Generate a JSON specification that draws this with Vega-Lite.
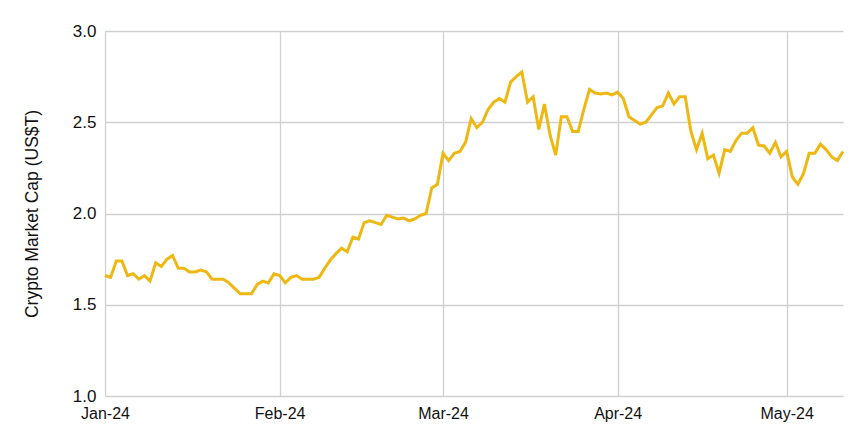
{
  "$schema": "https://vega.github.io/schema/vega-lite/v6.json",
  "width": 738,
  "height": 365,
  "autosize": "none",
  "padding": {"left": 105, "top": 31, "right": 22, "bottom": 48},
  "background": "white",
  "config": {
    "view": {"stroke": null},
    "font": "Liberation Sans",
    "axis": {"grid": true, "gridColor": "#d0d0d0", "gridWidth": 1.3, "domain": false, "ticks": false, "labelFont": "Liberation Sans", "titleFont": "Liberation Sans", "labelColor": "#111111", "titleColor": "#111111"}
  },
  "data": {"values": [
    {"d":"2024-01-01","v":1.66},{"d":"2024-01-02","v":1.65},{"d":"2024-01-03","v":1.74},{"d":"2024-01-04","v":1.74},{"d":"2024-01-05","v":1.66},{"d":"2024-01-06","v":1.67},{"d":"2024-01-07","v":1.64},{"d":"2024-01-08","v":1.66},{"d":"2024-01-09","v":1.63},{"d":"2024-01-10","v":1.73},{"d":"2024-01-11","v":1.71},{"d":"2024-01-12","v":1.75},{"d":"2024-01-13","v":1.77},{"d":"2024-01-14","v":1.70},{"d":"2024-01-15","v":1.70},{"d":"2024-01-16","v":1.68},{"d":"2024-01-17","v":1.68},{"d":"2024-01-18","v":1.69},{"d":"2024-01-19","v":1.68},{"d":"2024-01-20","v":1.64},{"d":"2024-01-21","v":1.64},{"d":"2024-01-22","v":1.64},{"d":"2024-01-23","v":1.62},{"d":"2024-01-24","v":1.59},{"d":"2024-01-25","v":1.56},{"d":"2024-01-26","v":1.56},{"d":"2024-01-27","v":1.56},{"d":"2024-01-28","v":1.61},{"d":"2024-01-29","v":1.63},{"d":"2024-01-30","v":1.62},{"d":"2024-01-31","v":1.67},
    {"d":"2024-02-01","v":1.66},{"d":"2024-02-02","v":1.62},{"d":"2024-02-03","v":1.65},{"d":"2024-02-04","v":1.66},{"d":"2024-02-05","v":1.64},{"d":"2024-02-06","v":1.64},{"d":"2024-02-07","v":1.64},{"d":"2024-02-08","v":1.65},{"d":"2024-02-09","v":1.70},{"d":"2024-02-10","v":1.745},{"d":"2024-02-11","v":1.78},{"d":"2024-02-12","v":1.81},{"d":"2024-02-13","v":1.79},{"d":"2024-02-14","v":1.87},{"d":"2024-02-15","v":1.86},{"d":"2024-02-16","v":1.95},{"d":"2024-02-17","v":1.96},{"d":"2024-02-18","v":1.95},{"d":"2024-02-19","v":1.94},{"d":"2024-02-20","v":1.99},{"d":"2024-02-21","v":1.98},{"d":"2024-02-22","v":1.97},{"d":"2024-02-23","v":1.975},{"d":"2024-02-24","v":1.96},{"d":"2024-02-25","v":1.97},{"d":"2024-02-26","v":1.99},{"d":"2024-02-27","v":2.00},{"d":"2024-02-28","v":2.14},{"d":"2024-02-29","v":2.16},
    {"d":"2024-03-01","v":2.33},{"d":"2024-03-02","v":2.29},{"d":"2024-03-03","v":2.33},{"d":"2024-03-04","v":2.34},{"d":"2024-03-05","v":2.39},{"d":"2024-03-06","v":2.52},{"d":"2024-03-07","v":2.47},{"d":"2024-03-08","v":2.50},{"d":"2024-03-09","v":2.57},{"d":"2024-03-10","v":2.61},{"d":"2024-03-11","v":2.63},{"d":"2024-03-12","v":2.61},{"d":"2024-03-13","v":2.72},{"d":"2024-03-14","v":2.75},{"d":"2024-03-15","v":2.775},{"d":"2024-03-16","v":2.61},{"d":"2024-03-17","v":2.64},{"d":"2024-03-18","v":2.46},{"d":"2024-03-19","v":2.60},{"d":"2024-03-20","v":2.43},{"d":"2024-03-21","v":2.32},{"d":"2024-03-22","v":2.53},{"d":"2024-03-23","v":2.53},{"d":"2024-03-24","v":2.45},{"d":"2024-03-25","v":2.45},{"d":"2024-03-26","v":2.57},{"d":"2024-03-27","v":2.68},{"d":"2024-03-28","v":2.66},{"d":"2024-03-29","v":2.655},{"d":"2024-03-30","v":2.66},{"d":"2024-03-31","v":2.65},
    {"d":"2024-04-01","v":2.665},{"d":"2024-04-02","v":2.63},{"d":"2024-04-03","v":2.53},{"d":"2024-04-04","v":2.51},{"d":"2024-04-05","v":2.49},{"d":"2024-04-06","v":2.50},{"d":"2024-04-07","v":2.54},{"d":"2024-04-08","v":2.58},{"d":"2024-04-09","v":2.59},{"d":"2024-04-10","v":2.66},{"d":"2024-04-11","v":2.60},{"d":"2024-04-12","v":2.64},{"d":"2024-04-13","v":2.64},{"d":"2024-04-14","v":2.45},{"d":"2024-04-15","v":2.35},{"d":"2024-04-16","v":2.44},{"d":"2024-04-17","v":2.30},{"d":"2024-04-18","v":2.32},{"d":"2024-04-19","v":2.22},{"d":"2024-04-20","v":2.35},{"d":"2024-04-21","v":2.34},{"d":"2024-04-22","v":2.40},{"d":"2024-04-23","v":2.44},{"d":"2024-04-24","v":2.44},{"d":"2024-04-25","v":2.47},{"d":"2024-04-26","v":2.375},{"d":"2024-04-27","v":2.37},{"d":"2024-04-28","v":2.33},{"d":"2024-04-29","v":2.39},{"d":"2024-04-30","v":2.31},
    {"d":"2024-05-01","v":2.34},{"d":"2024-05-02","v":2.20},{"d":"2024-05-03","v":2.16},{"d":"2024-05-04","v":2.22},{"d":"2024-05-05","v":2.33},{"d":"2024-05-06","v":2.33},{"d":"2024-05-07","v":2.38},{"d":"2024-05-08","v":2.35},{"d":"2024-05-09","v":2.31},{"d":"2024-05-10","v":2.29},{"d":"2024-05-11","v":2.34}
  ]},
  "mark": {"type": "line", "color": "#EDB812", "strokeWidth": 3, "strokeJoin": "miter", "clip": false},
  "encoding": {
    "x": {
      "field": "d", "type": "temporal",
      "scale": {"type": "utc", "nice": false},
      "axis": {"title": null, "labelExpr": "utcFormat(datum.value, '%b-%y')", "tickCount": {"interval": "month", "step": 1}, "labelFontSize": 16, "labelPadding": 9, "labelFlush": false}
    },
    "y": {
      "field": "v", "type": "quantitative",
      "scale": {"domain": [1, 3], "nice": false, "zero": false},
      "axis": {"title": "Crypto Market Cap (US$T)", "values": [1, 1.5, 2, 2.5, 3], "format": ".1f", "labelFontSize": 17, "labelPadding": 9, "titleFontSize": 17.5, "titleFontWeight": "normal", "titlePadding": 31}
    }
  }
}
